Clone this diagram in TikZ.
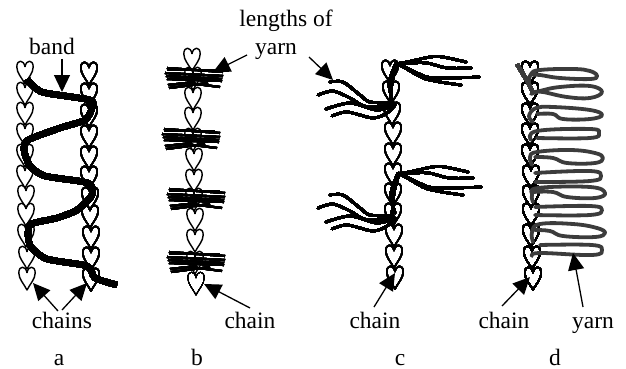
\documentclass[tikz,border=0pt]{standalone}
\usepackage{fontspec}
\setmainfont{Liberation Serif}
\usetikzlibrary{arrows.meta}
\definecolor{yarngrey}{HTML}{3c3c3c}
\tikzset{
  linkheart/.style={draw=black,line width=1.4pt,line join=round},
  thinheart/.style={draw=black,line width=0.8pt,line join=round},
  bandline/.style={draw=black,line width=6.2pt,line join=round},
  bundleline/.style={draw=black,line width=2.1pt},
  strand/.style={draw=black,line width=2.6pt,line cap=round},
  greyyarn/.style={draw=yarngrey,line width=3.8pt,line join=round,line cap=round},
  pointer/.style={draw=black,line width=1.3pt,-{Triangle[length=17pt,width=16pt]}},
  lbl/.style={font=\fontsize{23.5}{28}\selectfont,anchor=base,inner sep=0pt,text=black}
}
\newcommand{\linkat}[3][linkheart]{%
  \draw[#1,shift={(#2,#3)}] (0,6) .. controls (-1,-1.5) and (-8.2,-2) .. (-8.2,6)
    .. controls (-8.2,12) and (-3,17) .. (0,23)
    .. controls (3,17) and (8.2,12) .. (8.2,6)
    .. controls (8.2,-2) and (1,-1.5) .. (0,6);}
\newcommand{\bundleat}[2]{%
  \begin{scope}[shift={(#1,#2)}]
  \foreach \a/\b/\c/\d in {-28/-10/28/-6,-28/-8/23/-8,-30/-5/28/-2,-29/-2/27/1,-28/1/27/3,-27/7/0/4,-26/10/13/5,-7/5/25/9}
    \draw[bundleline] (\a,\b) -- (\c,\d);
  \end{scope}}
\newcommand{\tuft}{%
  \draw[strand] plot[smooth] coordinates {(396,64) (412,61) (430,57) (443,57) (466,62)};
  \draw[strand] plot[smooth] coordinates {(396,64) (410,63) (427,63) (447,68) (471,68)};
  \draw[strand] plot[smooth] coordinates {(398,64) (407,68) (427,77) (450,78) (479,77)};
  \draw[strand] plot[smooth] coordinates {(398,64) (407,69) (423,78) (440,82) (461,85)};
  \draw[strand] plot[smooth] coordinates {(396,63) (389,83) (393,103)};
  \draw[strand] plot[smooth] coordinates {(397,64) (392,83) (390,105)};
}
\newcommand{\fray}{%
  \draw[strand] plot[smooth] coordinates {(330,82) (343,82) (360,95) (370,102) (393,103)};
  \draw[strand] plot[smooth] coordinates {(318,95) (333,91) (350,98) (367,107) (393,105)};
  \draw[strand] plot[smooth] coordinates {(326,109) (350,103) (377,110) (395,105)};
  \draw[strand] plot[smooth] coordinates {(332,116) (347,112) (373,118) (387,113) (395,105)};
}
\begin{document}
\begin{tikzpicture}[x=1pt,y=-1pt]
\useasboundingbox (0,0) rectangle (626,369);
% chain a
\foreach \x/\y in {25/61,25/82,25/102,25/123,25/144,25/165,26/185,26/203,26/224,27/246,27/267} \linkat{\x}{\y}
\foreach \x/\y in {89/62,89/83,89/104,89/125,89/146,89/166,90/187,90/205,91/226,91/247,91/268} \linkat{\x}{\y}
\draw[bandline] plot[smooth,tension=0.4] coordinates {(27,79) (42,92) (90,100) (92,108) (85,120) (60,128) (28,140) (24,150) (30,166) (45,176) (88,183) (92,195) (77,210) (57,218) (31,224) (28,235) (31,247) (47,259) (87,266) (95,278) (117,285)};
% chain b
\foreach \x/\y in {192/48,193/67,193/87,193/107,193/128,194/148,194/169,194/188,195/208,195/229,195/251} \linkat{\x}{\y}
\linkat[thinheart]{196}{272}
\bundleat{195}{78}
\bundleat{192}{139}
\bundleat{197}{199}
\bundleat{197}{262}
% chain c
\foreach \x/\y in {390/60,391/81,392/102,393/122,393/143,393/163,393/183,393/203,394/224,394/245,395/266} \linkat{\x}{\y}
\tuft
\fray
\begin{scope}[shift={(2,110)}]\tuft\end{scope}
\begin{scope}[shift={(0,113)}]\fray\end{scope}
% chain d
\foreach \x/\y in {530/61,530/82,530/103,530/123,530/144,531/165,531/185,531/203,531/224,532/246,533/267} \linkat{\x}{\y}
\draw[greyyarn,line cap=butt] (517,64) -- (529,84) -- (533,93);
\foreach \pts in {
 {(529,82) (531,74) (540,70) (573,69) (590,71) (597,76) (590,79) (560,78) (540,75) (533,75)},
 {(531,94) (540,91) (560,87) (590,86) (602,92) (590,98) (567,97) (543,92) (535,92)},
 {(533,122) (529,116) (536,108) (553,107) (590,110) (602,115) (590,119) (563,119) (553,114) (537,114)},
 {(531,140) (537,131) (590,129) (599,133) (590,138) (537,138)},
 {(532,165) (530,157) (537,152) (570,150) (595,153) (603,158) (595,163) (567,163) (553,158) (535,157)},
 {(535,173) (590,171) (601,176) (590,181) (535,182)},
 {(533,202) (532,195) (538,188) (590,187) (605,193) (595,198) (567,197) (553,192) (533,192)},
 {(535,207) (590,206) (602,210) (590,215) (535,215)},
 {(533,242) (532,232) (540,224) (573,224) (597,228) (605,233) (595,237) (563,236) (550,231) (535,230)},
 {(540,245) (592,245) (602,250) (592,255) (540,253) (532,256)}}
 \draw[greyyarn] plot[smooth,tension=0.7] coordinates \pts;
% labels
\node[lbl] (band) at (52,55) {band};
\node[lbl] (lengths) at (286,27) {lengths of};
\node[lbl] (yarnb) at (276,55) {yarn};
\node[lbl] (chains) at (62,328) {chains};
\node[lbl] (chainb) at (250,328) {chain};
\node[lbl] (chainc) at (375,328) {chain};
\node[lbl] (chaind) at (504,328) {chain};
\node[lbl] (yarnd) at (593,328) {yarn};
\node[lbl] (capa) at (59,365) {a};
\node[lbl] (capb) at (197,365) {b};
\node[lbl] (capc) at (400,365) {c};
\node[lbl] (capd) at (555,365) {d};
% arrow tips
\coordinate (tband) at (62,92);
\coordinate (tleft) at (213,72);
\coordinate (tright) at (333,80);
\coordinate (tcha) at (33,283);
\coordinate (tchb) at (87,283);
\coordinate (tb) at (204,284);
\coordinate (tc) at (395,273);
\coordinate (td) at (530,277);
\coordinate (ty) at (573,253);
\draw[pointer] ([shift={(10,4)}]band.base) -- (tband);
\draw[pointer] ([shift={(-29,0)}]yarnb.base) -- (tleft);
\draw[pointer] ([shift={(33,2)}]yarnb.base) -- (tright);
\draw[pointer] ([shift={(-4,-17)}]chains.base) -- (tcha);
\draw[pointer] ([shift={(0,-18)}]chains.base) -- (tchb);
\draw[pointer] ([shift={(0,-20)}]chainb.base) -- (tb);
\draw[pointer] ([shift={(-1,-21)}]chainc.base) -- (tc);
\draw[pointer] ([shift={(-2,-22)}]chaind.base) -- (td);
\draw[pointer] ([shift={(-10,-21)}]yarnd.base) -- (ty);
\end{tikzpicture}
\end{document}
